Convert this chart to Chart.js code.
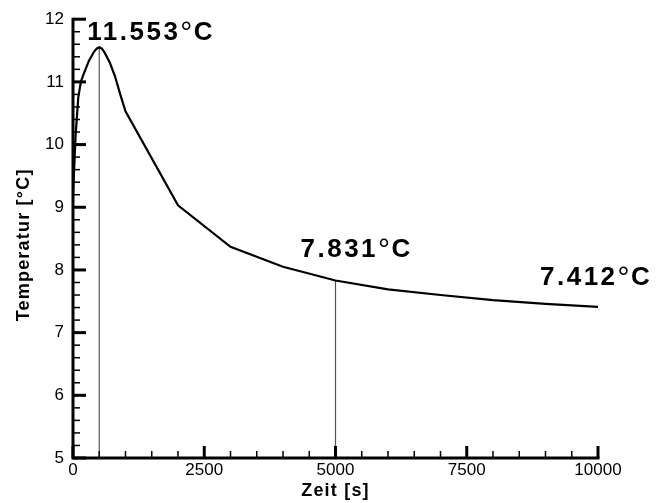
<!DOCTYPE html>
<html>
<head>
<meta charset="utf-8">
<script src="https://cdn.jsdelivr.net/npm/chart.js@4.4.1/dist/chart.umd.min.js"></script>
<style>
  html, body { margin: 0; padding: 0; background: #fff; }
  #wrap { width: 667px; height: 503px; }
</style>
</head>
<body>
<div id="wrap"><canvas id="tempChart" width="667" height="503"></canvas></div>
<script>
// Temperaturverlauf über die Zeit
const timeS = [0, 50, 100, 150, 200, 300, 400, 450, 500, 550, 600, 700, 800, 900, 1000, 2000, 3000, 4000, 5000, 6000, 7000, 8000, 9000, 10000];
const tempC = [9.2, 10.15, 10.75, 11.0, 11.12, 11.33, 11.48, 11.53, 11.553, 11.53, 11.47, 11.31, 11.09, 10.8, 10.53, 9.03, 8.37, 8.05, 7.831, 7.69, 7.60, 7.52, 7.46, 7.412];

// markierte Werte: Maximum, t = 5000 s, Endwert
const markTimes = [500, 5000, 10000];
const markTemps = [11.553, 7.831, 7.412];
const markLabels = ['11.553', '7.831', '7.412'];
const dropTimes = [500, 5000]; // senkrechte Linien bis zur Achse

const xTicks = [0, 2500, 5000, 7500, 10000];
const yTicks = [5, 6, 7, 8, 9, 10, 11, 12];

const FONT = '"Liberation Sans", Arial, sans-serif';

const points = timeS.map((t, i) => ({ x: t, y: tempC[i] }));

const dropSets = dropTimes.map(t => {
    const v = markTemps[markTimes.indexOf(t)];
    return {
        data: [{ x: t, y: 5 }, { x: t, y: v }],
        showLine: true,
        borderColor: '#555',
        borderWidth: 1.2,
        pointRadius: 0,
        tension: 0
    };
});

// Achsenlinien und nach innen zeigende Haupt-/Nebenstriche
const axisTicks = {
    id: 'axisTicks',
    afterDatasetsDraw(chart) {
        const { ctx, scales: { x, y } } = chart;
        const x0 = x.getPixelForValue(0);
        const y0 = y.getPixelForValue(5);
        ctx.save();
        ctx.strokeStyle = '#000';
        ctx.lineCap = 'butt';
        for (let t = 0; t <= 10000; t += 500) {
            const px = x.getPixelForValue(t);
            const major = t % 2500 === 0;
            ctx.lineWidth = major ? 3 : 1.5;
            ctx.beginPath();
            ctx.moveTo(px, y0);
            ctx.lineTo(px, y0 - (major ? 12 : 7));
            ctx.stroke();
        }
        for (let k = 0; k <= 35; k++) {
            const v = 5 + k * 0.2;
            const py = y.getPixelForValue(v);
            const major = k % 5 === 0;
            ctx.lineWidth = major ? 3 : 1.5;
            ctx.beginPath();
            ctx.moveTo(x0, py);
            ctx.lineTo(x0 + (major ? 13 : 7), py);
            ctx.stroke();
        }
        ctx.lineWidth = 3;
        ctx.beginPath();
        ctx.moveTo(x0, y.getPixelForValue(12) - 1.5);
        ctx.lineTo(x0, y0);
        ctx.lineTo(x.getPixelForValue(10000) + 1.5, y0);
        ctx.stroke();
        ctx.restore();
    }
};

// Beschriftungen der markierten Werte und Achsentitel
const labelsPlugin = {
    id: 'labelsPlugin',
    afterDraw(chart) {
        const { ctx, scales: { x, y } } = chart;
        const offsets = [[-12, -7], [-35, -24], [-58, -22]];
        ctx.save();
        ctx.fillStyle = '#000';
        ctx.textBaseline = 'alphabetic';
        ctx.letterSpacing = '2.5px';
        markTimes.forEach((t, i) => {
            let px = x.getPixelForValue(t) + offsets[i][0];
            const py = y.getPixelForValue(markTemps[i]) + offsets[i][1];
            ctx.font = 'bold 26px ' + FONT;
            ctx.fillText(markLabels[i], px, py);
            px += ctx.measureText(markLabels[i]).width;
            ctx.font = '30px ' + FONT;
            ctx.fillText('°', px, py + 2);
            px += ctx.measureText('°').width - 1;
            ctx.font = 'bold 26px ' + FONT;
            ctx.fillText('C', px, py);
        });

        ctx.letterSpacing = '1.2px';
        ctx.font = 'bold 18px ' + FONT;
        ctx.textAlign = 'center';
        ctx.fillText('Zeit [s]', x.getPixelForValue(5000), 496);

        ctx.translate(29, y.getPixelForValue(8.4));
        ctx.rotate(-Math.PI / 2);
        ctx.letterSpacing = '1.2px';
        ctx.fillText('Temperatur [°C]', 0, 0);
        ctx.restore();
    }
};

new Chart(document.getElementById('tempChart'), {
    type: 'scatter',
    data: {
        datasets: [
            {
                data: points,
                showLine: true,
                borderColor: '#000',
                borderWidth: 2.2,
                pointRadius: 0,
                tension: 0
            },
            ...dropSets
        ]
    },
    options: {
        responsive: false,
        animation: false,
        devicePixelRatio: 1,
        layout: { padding: { top: 15, right: 69, left: 0, bottom: 0 } },
        plugins: {
            legend: { display: false },
            tooltip: { enabled: false }
        },
        scales: {
            x: {
                type: 'linear',
                min: 0,
                max: 10000,
                afterBuildTicks(scale) {
                    scale.ticks = xTicks.map(v => ({ value: v }));
                },
                afterFit(scale) { scale.height = 45; },
                grid: { display: false, drawTicks: false },
                border: { display: false },
                ticks: {
                    padding: 2,
                    color: '#000',
                    font: { family: FONT, size: 17 },
                    maxRotation: 0,
                    callback: v => String(v)
                }
            },
            y: {
                type: 'linear',
                min: 5,
                max: 12,
                afterBuildTicks(scale) {
                    scale.ticks = yTicks.map(v => ({ value: v }));
                },
                afterFit(scale) { scale.width = 73; },
                grid: { display: false, drawTicks: false },
                border: { display: false },
                ticks: {
                    padding: 9,
                    color: '#000',
                    font: { family: FONT, size: 17 },
                    callback: v => String(v)
                }
            }
        }
    },
    plugins: [axisTicks, labelsPlugin]
});
</script>
</body>
</html>
